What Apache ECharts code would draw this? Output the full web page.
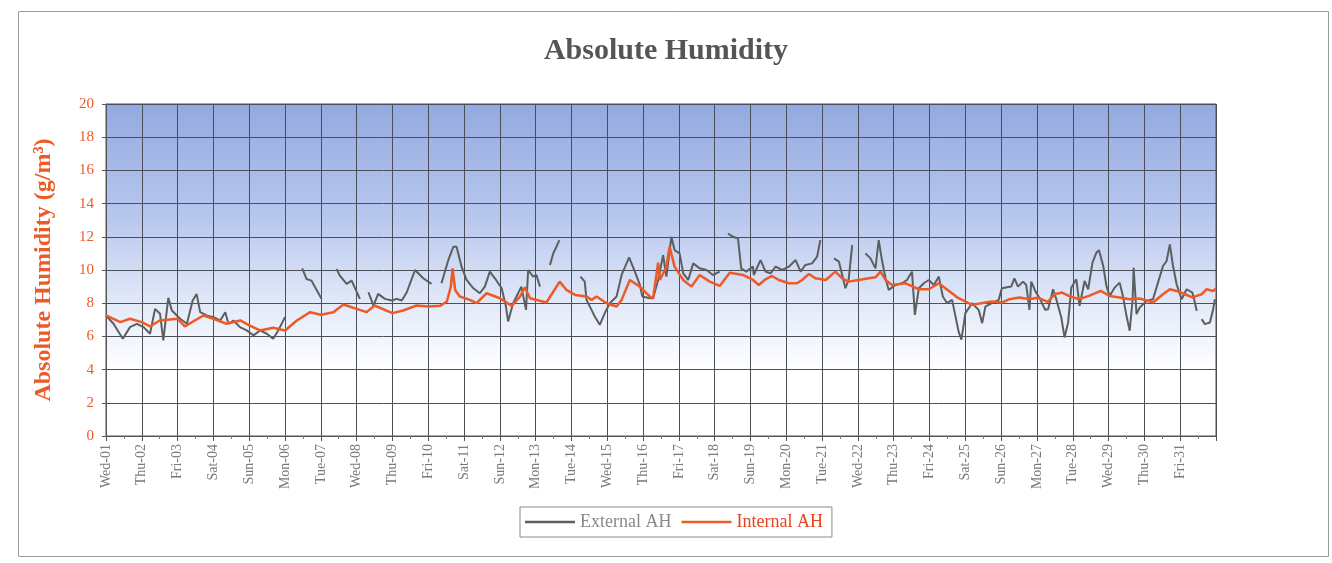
<!DOCTYPE html>
<html>
<head>
<meta charset="utf-8">
<title>Absolute Humidity</title>
<script src="https://cdn.jsdelivr.net/npm/echarts@6/dist/echarts.min.js"></script>
<style>
  html, body { margin: 0; padding: 0; background: #fff; }
  #chart { width: 1332px; height: 563px; }
</style>
</head>
<body>
<div id="chart"></div>
<script>
// Day labels for the month (tick n = start of day n)
const dayLabels = ['Wed-01','Thu-02','Fri-03','Sat-04','Sun-05','Mon-06','Tue-07','Wed-08','Thu-09','Fri-10',
  'Sat-11','Sun-12','Mon-13','Tue-14','Wed-15','Thu-16','Fri-17','Sat-18','Sun-19','Mon-20',
  'Tue-21','Wed-22','Thu-23','Fri-24','Sat-25','Sun-26','Mon-27','Tue-28','Wed-29','Thu-30','Fri-31'];

// External absolute humidity, [day offset, g/m3]; null marks a logging gap
const externalAH = [
  [0.0,7.26],[0.21,6.76],[0.47,5.86],[0.67,6.56],[0.86,6.76],[1.05,6.56],[1.23,6.16],[1.37,7.66],[1.51,7.36],
  [1.6,5.76],[1.74,8.32],[1.84,7.56],[2.07,7.06],[2.26,6.76],[2.42,8.16],[2.53,8.56],[2.63,7.46],[2.81,7.26],
  [3.0,7.16],[3.19,6.96],[3.33,7.46],[3.42,6.76],[3.56,6.96],[3.74,6.56],[3.93,6.36],[4.12,6.06],[4.3,6.36],
  [4.49,6.16],[4.67,5.86],[4.81,6.36],[5.0,7.16],
  [5.2,null],
  [5.48,10.1],[5.6,9.46],[5.74,9.36],[5.84,8.96],[6.02,8.26],
  [6.2,null],
  [6.44,10.06],[6.53,9.66],[6.72,9.16],[6.86,9.36],[7.09,8.26],
  [7.2,null],
  [7.33,8.66],[7.47,7.86],[7.6,8.56],[7.79,8.26],[7.98,8.16],[8.12,8.26],[8.26,8.16],[8.4,8.66],[8.63,10.0],
  [8.86,9.5],[9.09,9.16],
  [9.25,null],
  [9.37,9.2],[9.56,10.6],[9.7,11.4],[9.79,11.4],[9.93,10.2],[10.07,9.4],[10.26,8.9],[10.44,8.6],[10.58,9.0],
  [10.72,9.9],[10.86,9.5],[11.05,8.9],[11.17,7.8],[11.23,6.9],[11.37,8.0],[11.51,8.6],[11.6,9.0],[11.73,7.6],
  [11.79,10.0],[11.93,9.6],[12.02,9.7],[12.12,9.0],
  [12.25,null],
  [12.4,10.3],[12.49,11.0],[12.58,11.4],[12.66,11.8],
  [12.9,null],
  [13.25,9.6],[13.37,9.3],[13.42,8.2],[13.56,7.6],[13.65,7.2],[13.79,6.7],[13.93,7.4],[14.07,8.0],[14.26,8.4],
  [14.4,9.7],[14.61,10.76],[14.77,9.9],[14.91,9.1],[14.98,8.4],[15.19,8.3],[15.28,8.3],[15.42,9.4],[15.56,10.9],
  [15.65,9.6],[15.79,12.0],[15.88,11.2],[16.02,11.0],[16.12,9.8],[16.26,9.4],[16.4,10.4],[16.58,10.1],
  [16.77,10.0],[16.95,9.7],[17.14,9.9],
  [17.25,null],
  [17.37,12.2],[17.51,12.0],[17.65,11.9],[17.74,10.1],[17.88,9.9],[18.07,10.2],[18.09,9.7],[18.28,10.6],
  [18.42,9.9],[18.56,9.8],[18.7,10.2],[18.88,10.0],[19.07,10.2],[19.26,10.6],[19.4,9.9],[19.53,10.3],
  [19.72,10.4],[19.86,10.8],[19.95,11.8],
  [20.15,null],
  [20.33,10.7],[20.47,10.5],[20.65,8.9],[20.74,9.4],[20.84,11.5],
  [21.0,null],
  [21.21,11.0],[21.35,10.7],[21.49,10.1],[21.58,11.8],[21.67,10.6],[21.77,9.5],[21.86,8.8],[22.05,9.1],
  [22.23,9.2],[22.37,9.4],[22.51,9.9],[22.59,7.3],[22.7,8.9],[22.84,9.2],[22.98,9.4],[23.12,9.1],[23.26,9.6],
  [23.37,8.4],[23.49,8.0],[23.63,8.2],[23.81,6.3],[23.89,5.8],[24.0,7.4],[24.19,8.0],[24.37,7.6],[24.47,6.8],
  [24.56,7.8],[24.74,8.0],[24.93,8.2],[25.02,8.9],[25.28,9.0],[25.37,9.5],[25.47,9.0],[25.61,9.3],[25.7,9.1],
  [25.79,7.6],[25.84,9.3],[25.96,8.7],[26.1,8.2],[26.23,7.6],[26.31,7.64],[26.45,8.84],[26.54,8.24],
  [26.68,7.14],[26.77,5.94],[26.87,6.84],[26.96,8.94],[27.1,9.44],[27.19,7.84],[27.33,9.34],[27.43,8.84],
  [27.55,10.44],[27.66,11.04],[27.73,11.2],[27.85,10.24],[27.94,9.04],[28.03,8.44],[28.17,8.94],[28.31,9.24],
  [28.4,8.44],[28.5,7.24],[28.59,6.34],[28.67,8.2],[28.7,10.14],[28.78,7.34],[28.87,7.74],[29.06,8.14],
  [29.24,8.24],[29.38,9.24],[29.52,10.24],[29.62,10.54],[29.71,11.54],[29.8,10.24],[29.9,9.14],[30.04,8.24],
  [30.18,8.84],[30.34,8.64],[30.41,8.04],[30.46,7.54],
  [30.53,null],
  [30.6,7.04],[30.69,6.74],[30.83,6.84],[30.92,7.64],[30.97,8.24]
];

// Internal absolute humidity, [day offset, g/m3]
const internalAH = [
  [0.0,7.26],[0.4,6.86],[0.67,7.06],[1.0,6.86],[1.23,6.6],[1.5,6.96],[2.0,7.06],[2.2,6.6],[2.72,7.26],
  [3.0,7.06],[3.37,6.76],[3.75,6.96],[4.0,6.66],[4.3,6.36],[4.67,6.52],[5.0,6.36],[5.33,6.96],[5.7,7.46],
  [6.0,7.3],[6.35,7.46],[6.63,7.92],[7.0,7.66],[7.28,7.46],[7.5,7.86],[8.0,7.4],[8.3,7.56],[8.67,7.86],
  [9.0,7.8],[9.33,7.84],[9.52,8.1],[9.63,9.0],[9.68,10.1],[9.75,8.8],[9.88,8.4],[10.16,8.2],[10.35,8.0],
  [10.63,8.6],[11.0,8.3],[11.33,7.84],[11.56,8.4],[11.7,8.96],[11.84,8.3],[12.3,8.04],[12.67,9.3],[12.86,8.8],
  [13.1,8.5],[13.42,8.4],[13.56,8.2],[13.7,8.4],[13.98,8.0],[14.26,7.8],[14.4,8.2],[14.63,9.4],[14.91,9.0],
  [15.19,8.4],[15.28,8.3],[15.42,10.44],[15.47,9.4],[15.65,10.2],[15.74,11.4],[15.88,10.2],[16.12,9.4],
  [16.35,9.0],[16.58,9.7],[16.86,9.3],[17.14,9.04],[17.42,9.84],[17.79,9.7],[18.07,9.4],[18.23,9.1],
  [18.42,9.44],[18.6,9.64],[18.79,9.4],[19.07,9.2],[19.3,9.2],[19.44,9.4],[19.63,9.76],[19.81,9.5],[20.1,9.4],
  [20.37,9.9],[20.56,9.5],[20.74,9.3],[21.02,9.4],[21.3,9.5],[21.49,9.56],[21.63,9.9],[21.77,9.4],[21.95,9.1],
  [22.33,9.2],[22.7,8.84],[22.98,8.84],[23.26,9.2],[23.44,8.9],[23.81,8.3],[24.19,7.9],[24.56,8.04],
  [24.74,8.1],[25.02,8.04],[25.23,8.24],[25.51,8.34],[25.8,8.24],[26.03,8.34],[26.3,8.08],[26.5,8.54],
  [26.7,8.64],[26.89,8.44],[27.17,8.24],[27.45,8.44],[27.78,8.74],[28.03,8.44],[28.31,8.34],[28.59,8.24],
  [28.87,8.28],[29.24,8.04],[29.52,8.54],[29.71,8.84],[29.9,8.74],[30.13,8.54],[30.36,8.34],[30.46,8.44],
  [30.6,8.54],[30.74,8.84],[30.92,8.74],[31.0,8.88]
];

const SERIF = '"Liberation Serif", "Times New Roman", serif';
const ORANGE = '#ee5a26';
const GREY_LINE = '#5b5f5f';

const chart = echarts.init(document.getElementById('chart'), null, { renderer: 'canvas' });

chart.setOption({
  backgroundColor: '#ffffff',
  animation: false,
  graphic: [{
    type: 'rect',
    shape: { x: 18.5, y: 11.5, width: 1310, height: 545 },
    style: { fill: 'none', stroke: '#9a9a9a', lineWidth: 1 },
    silent: true,
    z: -10
  }],
  title: {
    text: 'Absolute Humidity',
    left: 'center',
    top: 31,
    textStyle: { fontFamily: SERIF, fontSize: 30, fontWeight: 'bold', color: '#555555' }
  },
  legend: {
    left: 520,
    top: 507,
    padding: [6, 9, 6, 5],
    borderColor: '#8a8a8a',
    borderWidth: 1,
    backgroundColor: '#ffffff',
    icon: 'rect',
    itemWidth: 50,
    itemHeight: 2.5,
    itemGap: 10,
    data: [
      { name: 'External AH', textStyle: { color: '#8a8a8a', fontSize: 18, fontFamily: SERIF } },
      { name: 'Internal AH', textStyle: { color: '#e8421e', fontSize: 18, fontFamily: SERIF } }
    ]
  },
  grid: {
    left: 106,
    right: 116,
    top: 104,
    bottom: 127,
    show: true,
    borderColor: '#555',
    borderWidth: 1,
    backgroundColor: {
      type: 'linear', x: 0, y: 0, x2: 0, y2: 1,
      colorStops: [
        { offset: 0, color: '#93a9e0' },
        { offset: 0.35, color: '#b9c8ee' },
        { offset: 0.6, color: '#e2e9f8' },
        { offset: 0.8, color: '#ffffff' },
        { offset: 1, color: '#ffffff' }
      ]
    }
  },
  xAxis: {
    type: 'value',
    min: 0,
    max: 31,
    interval: 1,
    axisLine: { show: true, lineStyle: { color: '#555', width: 1 } },
    axisTick: { show: true, length: 5, lineStyle: { color: '#555' } },
    minorTick: { show: true, splitNumber: 2, length: 3, lineStyle: { color: '#777' } },
    splitLine: { show: true, lineStyle: { color: '#4a4f5a', width: 1 } },
    axisLabel: {
      rotate: 90,
      margin: 8,
      color: '#7a7a7a',
      fontFamily: SERIF,
      fontSize: 14,
      showMaxLabel: false,
      formatter: v => (v < dayLabels.length ? dayLabels[v] : '')
    }
  },
  yAxis: {
    type: 'value',
    min: 0,
    max: 20,
    interval: 2,
    name: 'Absolute Humidity (g/m³)',
    nameLocation: 'middle',
    nameGap: 50,
    nameTextStyle: { fontFamily: SERIF, fontSize: 24, fontWeight: 'bold', color: ORANGE },
    axisLine: { show: true, lineStyle: { color: '#555' } },
    axisTick: { show: true, length: 4, lineStyle: { color: '#555' } },
    splitLine: { show: true, lineStyle: { color: '#4a4f5a', width: 1 } },
    axisLabel: { color: ORANGE, fontFamily: SERIF, fontSize: 15, margin: 12 }
  },
  series: [
    {
      name: 'External AH',
      type: 'line',
      data: externalAH,
      symbol: 'none',
      connectNulls: false,
      lineStyle: { color: GREY_LINE, width: 2 },
      itemStyle: { color: GREY_LINE },
      z: 2
    },
    {
      name: 'Internal AH',
      type: 'line',
      data: internalAH,
      symbol: 'none',
      lineStyle: { color: ORANGE, width: 2.5 },
      itemStyle: { color: ORANGE },
      z: 3
    }
  ]
});
</script>
</body>
</html>
